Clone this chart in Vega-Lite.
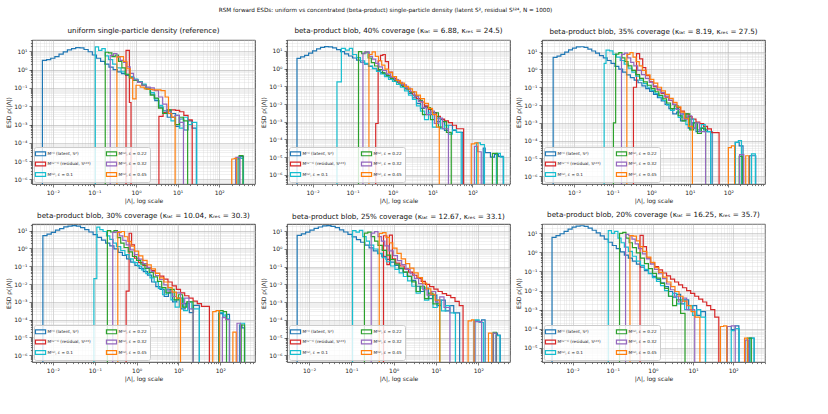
{
"$schema":"https://vega.github.io/schema/vega-lite/v6.json",
"background":"white",
"padding":{"left":5,"top":7,"right":5,"bottom":5},
"title":{"text":"RSM forward ESDs: uniform vs concentrated (beta-product) single-particle density (latent S², residual S¹²⁴, N = 1000)","fontSize":5.7,"fontWeight":"normal","font":"DejaVu Sans","color":"#111111","anchor":"middle","offset":14},
"config":{
"font":"DejaVu Sans",
"view":{"stroke":"#1a1a1a","strokeWidth":0.8},
"title":{"fontSize":7.2,"fontWeight":"normal","color":"#111111","offset":3},
"axis":{
"tickCount":80,"labelOverlap":false,"labelFlush":false,"domain":false,
"labelFontSize":6,"labelColor":"#222222","titleFontSize":6,"titleFontWeight":"normal","titleColor":"#222222",
"labelPadding":2,"titlePadding":2,"tickColor":"#222222","tickWidth":0.6,
"tickSize":{"condition":{"test":"abs(log(datum.value)/LN10-round(log(datum.value)/LN10))<0.001","value":3},"value":1.6},
"gridColor":{"condition":{"test":"abs(log(datum.value)/LN10-round(log(datum.value)/LN10))<0.001","value":"#b0b0b0"},"value":"#d6d6d6"},
"gridOpacity":{"condition":{"test":"abs(log(datum.value)/LN10-round(log(datum.value)/LN10))<0.001","value":0.85},"value":0.6},
"gridWidth":0.6,
"labelExpr":"abs(log(datum.value)/LN10-round(log(datum.value)/LN10))<0.001 ? '10'+replace(replace(replace(replace(replace(replace(replace(replace(replace(replace(''+round(log(datum.value)/LN10),'-','⁻'),'0','⁰'),'1','¹'),'2','²'),'3','³'),'4','⁴'),'5','⁵'),'6','⁶'),'7','⁷'),'8','⁸') : ''"
},
"legend":{"orient":"bottom-left","columns":2,"offset":2,"padding":2.5,"fillColor":"rgba(255,255,255,0.8)","strokeColor":"#cccccc","cornerRadius":2,"labelFontSize":4.2,"labelColor":"#222222","labelLimit":300,"labelOffset":3,"rowPadding":0.5,"columnPadding":12,"symbolSize":40,"symbolStrokeWidth":1.2,"symbolFillColor":"transparent"}
},
"datasets":{
"p1":[
{"s":"a","x":0.001,"y":1e-9},{"s":"a","x":0.00562,"y":3.2},{"s":"a","x":0.00708,"y":3.5},{"s":"a","x":0.00891,"y":4.2},{"s":"a","x":0.0112,"y":5.2},{"s":"a","x":0.0141,"y":7.1},{"s":"a","x":0.0178,"y":9.3},{"s":"a","x":0.0224,"y":12},{"s":"a","x":0.0282,"y":14},{"s":"a","x":0.0355,"y":16},{"s":"a","x":0.0447,"y":15.5},{"s":"a","x":0.0562,"y":12.6},{"s":"a","x":0.0708,"y":9.5},{"s":"a","x":0.0891,"y":6.3},{"s":"a","x":0.112,"y":4.2},{"s":"a","x":0.141,"y":2.8},{"s":"a","x":0.178,"y":2.0},{"s":"a","x":0.224,"y":1.38},{"s":"a","x":0.282,"y":1.0},{"s":"a","x":0.355,"y":0.76},{"s":"a","x":0.447,"y":0.6},{"s":"a","x":0.562,"y":0.48},{"s":"a","x":0.708,"y":0.38},{"s":"a","x":0.891,"y":0.28},{"s":"a","x":1.12,"y":0.22},{"s":"a","x":1.41,"y":0.14},{"s":"a","x":1.78,"y":0.089},{"s":"a","x":2.24,"y":0.045},{"s":"a","x":2.82,"y":0.02},{"s":"a","x":3.55,"y":0.0089},{"s":"a","x":4.47,"y":0.0056},{"s":"a","x":5.62,"y":0.0025},{"s":"a","x":7.08,"y":0.004},{"s":"a","x":8.91,"y":0.00079},{"s":"a","x":11.2,"y":0.002},{"s":"a","x":14.1,"y":0.0005},{"s":"a","x":17.8,"y":0.0016},{"s":"a","x":22.4,"y":0.00063},{"s":"a","x":28.2,"y":1e-9},{"s":"a","x":251,"y":1.3e-5},{"s":"a","x":302,"y":1.8e-5},{"s":"a","x":380,"y":1e-9},
{"s":"b","x":0.001,"y":1e-9},{"s":"b","x":0.575,"y":11.2},{"s":"b","x":0.692,"y":0.016},{"s":"b","x":0.759,"y":1e-9},{"s":"b","x":3.55,"y":0.0028},{"s":"b","x":4.47,"y":0.0045},{"s":"b","x":5.62,"y":0.0056},{"s":"b","x":7.08,"y":0.0063},{"s":"b","x":8.91,"y":0.006},{"s":"b","x":11.2,"y":0.005},{"s":"b","x":14.1,"y":0.0032},{"s":"b","x":17.8,"y":0.0018},{"s":"b","x":22.4,"y":1e-9},
{"s":"c","x":0.001,"y":1e-9},{"s":"c","x":0.105,"y":17.4},{"s":"c","x":0.126,"y":11.2},{"s":"c","x":0.151,"y":14.1},{"s":"c","x":0.182,"y":5.6},{"s":"c","x":0.219,"y":3.5},{"s":"c","x":0.275,"y":2.0},{"s":"c","x":0.347,"y":1.26},{"s":"c","x":0.437,"y":0.76},{"s":"c","x":0.55,"y":0.56},{"s":"c","x":0.692,"y":0.42},{"s":"c","x":0.871,"y":0.3},{"s":"c","x":1.1,"y":0.22},{"s":"c","x":1.38,"y":0.16},{"s":"c","x":1.74,"y":0.1},{"s":"c","x":2.19,"y":0.056},{"s":"c","x":2.75,"y":0.025},{"s":"c","x":3.47,"y":0.011},{"s":"c","x":4.37,"y":0.004},{"s":"c","x":5.5,"y":0.0063},{"s":"c","x":6.92,"y":0.0016},{"s":"c","x":8.71,"y":0.0032},{"s":"c","x":11.0,"y":0.00063},{"s":"c","x":13.8,"y":0.0025},{"s":"c","x":17.4,"y":0.001},{"s":"c","x":21.9,"y":0.0013},{"s":"c","x":28.8,"y":1e-9},{"s":"c","x":282,"y":1.6e-5},{"s":"c","x":331,"y":1.4e-5},{"s":"c","x":380,"y":1e-9},
{"s":"d","x":0.001,"y":1e-9},{"s":"d","x":0.182,"y":8.9},{"s":"d","x":0.219,"y":8.3},{"s":"d","x":0.263,"y":5.2},{"s":"d","x":0.316,"y":6.3},{"s":"d","x":0.38,"y":2.8},{"s":"d","x":0.457,"y":1.26},{"s":"d","x":0.55,"y":0.56},{"s":"d","x":0.692,"y":0.35},{"s":"d","x":0.871,"y":0.26},{"s":"d","x":1.1,"y":0.2},{"s":"d","x":1.38,"y":0.14},{"s":"d","x":1.74,"y":0.089},{"s":"d","x":2.19,"y":0.04},{"s":"d","x":2.75,"y":0.028},{"s":"d","x":3.47,"y":0.0079},{"s":"d","x":4.37,"y":0.004},{"s":"d","x":5.5,"y":0.0063},{"s":"d","x":6.92,"y":0.0025},{"s":"d","x":8.71,"y":0.001},{"s":"d","x":11.0,"y":0.0025},{"s":"d","x":13.8,"y":0.0016},{"s":"d","x":17.4,"y":1e-9},{"s":"d","x":302,"y":2.0e-5},{"s":"d","x":372,"y":1e-9},
{"s":"e","x":0.001,"y":1e-9},{"s":"e","x":0.24,"y":6.0},{"s":"e","x":0.288,"y":7.6},{"s":"e","x":0.347,"y":5.0},{"s":"e","x":0.417,"y":3.2},{"s":"e","x":0.501,"y":2.5},{"s":"e","x":0.603,"y":1.41},{"s":"e","x":0.724,"y":0.63},{"s":"e","x":0.871,"y":0.28},{"s":"e","x":1.1,"y":0.2},{"s":"e","x":1.38,"y":0.14},{"s":"e","x":1.74,"y":0.11},{"s":"e","x":2.19,"y":0.1},{"s":"e","x":2.75,"y":0.071},{"s":"e","x":3.47,"y":0.032},{"s":"e","x":4.37,"y":0.013},{"s":"e","x":5.5,"y":0.005},{"s":"e","x":6.92,"y":0.0025},{"s":"e","x":8.71,"y":0.0032},{"s":"e","x":11.0,"y":0.0013},{"s":"e","x":13.8,"y":1e-9},{"s":"e","x":251,"y":1.6e-5},{"s":"e","x":316,"y":1e-9},
{"s":"f","x":0.001,"y":1e-9},{"s":"f","x":0.347,"y":5.0},{"s":"f","x":0.417,"y":5.2},{"s":"f","x":0.501,"y":2.8},{"s":"f","x":0.603,"y":1.12},{"s":"f","x":0.724,"y":0.35},{"s":"f","x":0.832,"y":0.025},{"s":"f","x":1.0,"y":0.14},{"s":"f","x":1.26,"y":0.11},{"s":"f","x":1.58,"y":0.089},{"s":"f","x":2.0,"y":0.083},{"s":"f","x":2.51,"y":0.079},{"s":"f","x":3.98,"y":0.071},{"s":"f","x":5.01,"y":0.032},{"s":"f","x":6.03,"y":0.004},{"s":"f","x":7.24,"y":0.0025},{"s":"f","x":8.71,"y":1e-9},{"s":"f","x":200,"y":1.3e-5},{"s":"f","x":229,"y":1.4e-5},{"s":"f","x":263,"y":1e-9}
],
"p2":[
{"s":"a","x":0.001,"y":1e-9},{"s":"a","x":0.00407,"y":3.8},{"s":"a","x":0.00501,"y":4.6},{"s":"a","x":0.00631,"y":5.6},{"s":"a","x":0.00794,"y":7.6},{"s":"a","x":0.01,"y":10},{"s":"a","x":0.0126,"y":13},{"s":"a","x":0.0158,"y":16},{"s":"a","x":0.02,"y":17.4},{"s":"a","x":0.0251,"y":17},{"s":"a","x":0.0316,"y":15},{"s":"a","x":0.0398,"y":12},{"s":"a","x":0.0501,"y":9.1},{"s":"a","x":0.0631,"y":6.9},{"s":"a","x":0.0794,"y":5.2},{"s":"a","x":0.1,"y":4.0},{"s":"a","x":0.126,"y":3.0},{"s":"a","x":0.158,"y":2.3},{"s":"a","x":0.2,"y":1.78},{"s":"a","x":0.251,"y":1.35},{"s":"a","x":0.316,"y":1.05},{"s":"a","x":0.398,"y":0.79},{"s":"a","x":0.501,"y":0.6},{"s":"a","x":0.631,"y":0.45},{"s":"a","x":0.794,"y":0.33},{"s":"a","x":1.0,"y":0.24},{"s":"a","x":1.26,"y":0.17},{"s":"a","x":1.58,"y":0.11},{"s":"a","x":2.0,"y":0.071},{"s":"a","x":2.51,"y":0.04},{"s":"a","x":3.16,"y":0.022},{"s":"a","x":3.98,"y":0.011},{"s":"a","x":5.01,"y":0.0056},{"s":"a","x":6.31,"y":0.0071},{"s":"a","x":7.94,"y":0.0025},{"s":"a","x":10.0,"y":0.0032},{"s":"a","x":12.6,"y":0.001},{"s":"a","x":15.8,"y":0.0013},{"s":"a","x":20.0,"y":0.00032},{"s":"a","x":25.1,"y":0.00063},{"s":"a","x":31.6,"y":0.00032},{"s":"a","x":39.8,"y":0.00025},{"s":"a","x":57.5,"y":1e-9},{"s":"a","x":186,"y":3.2e-5},{"s":"a","x":209,"y":1.8e-5},{"s":"a","x":282,"y":1.0e-5},{"s":"a","x":355,"y":1.4e-5},{"s":"a","x":447,"y":1.1e-5},{"s":"a","x":589,"y":1e-9},
{"s":"b","x":0.001,"y":1e-9},{"s":"b","x":0.38,"y":0.00079},{"s":"b","x":0.437,"y":2.8},{"s":"b","x":0.501,"y":5.6},{"s":"b","x":0.575,"y":6.3},{"s":"b","x":0.661,"y":2.5},{"s":"b","x":0.794,"y":0.63},{"s":"b","x":1.0,"y":0.28},{"s":"b","x":1.26,"y":0.18},{"s":"b","x":1.58,"y":0.12},{"s":"b","x":2.0,"y":0.079},{"s":"b","x":2.51,"y":0.05},{"s":"b","x":3.16,"y":0.032},{"s":"b","x":3.98,"y":0.02},{"s":"b","x":5.01,"y":0.013},{"s":"b","x":6.31,"y":0.0079},{"s":"b","x":7.94,"y":0.005},{"s":"b","x":10.0,"y":0.0032},{"s":"b","x":12.6,"y":0.002},{"s":"b","x":15.8,"y":0.0014},{"s":"b","x":20.0,"y":0.0011},{"s":"b","x":25.1,"y":0.00089},{"s":"b","x":31.6,"y":0.00063},{"s":"b","x":39.8,"y":0.0004},{"s":"b","x":60.3,"y":1e-9},
{"s":"c","x":0.001,"y":1e-9},{"s":"c","x":0.0407,"y":0.18},{"s":"c","x":0.0525,"y":14},{"s":"c","x":0.0661,"y":11.2},{"s":"c","x":0.0832,"y":14},{"s":"c","x":0.1,"y":6.3},{"s":"c","x":0.126,"y":4.2},{"s":"c","x":0.158,"y":2.8},{"s":"c","x":0.2,"y":2.0},{"s":"c","x":0.251,"y":1.41},{"s":"c","x":0.316,"y":1.0},{"s":"c","x":0.398,"y":0.71},{"s":"c","x":0.501,"y":0.5},{"s":"c","x":0.631,"y":0.35},{"s":"c","x":0.794,"y":0.25},{"s":"c","x":1.0,"y":0.19},{"s":"c","x":1.26,"y":0.13},{"s":"c","x":1.58,"y":0.089},{"s":"c","x":2.0,"y":0.056},{"s":"c","x":2.51,"y":0.032},{"s":"c","x":3.16,"y":0.018},{"s":"c","x":3.98,"y":0.0079},{"s":"c","x":5.01,"y":0.004},{"s":"c","x":6.31,"y":0.0013},{"s":"c","x":7.94,"y":0.0032},{"s":"c","x":10.0,"y":0.0005},{"s":"c","x":12.6,"y":0.0016},{"s":"c","x":15.8,"y":0.0004},{"s":"c","x":20.0,"y":0.00063},{"s":"c","x":25.1,"y":0.0002},{"s":"c","x":31.6,"y":0.00035},{"s":"c","x":39.8,"y":0.00025},{"s":"c","x":52.5,"y":1e-9},{"s":"c","x":126,"y":6.3e-5},{"s":"c","x":158,"y":5.0e-5},{"s":"c","x":200,"y":1e-9},{"s":"c","x":398,"y":1.6e-5},{"s":"c","x":501,"y":1.0e-5},{"s":"c","x":603,"y":1e-9},
{"s":"d","x":0.001,"y":1e-9},{"s":"d","x":0.141,"y":9.1},{"s":"d","x":0.17,"y":7.1},{"s":"d","x":0.204,"y":8.9},{"s":"d","x":0.245,"y":4.0},{"s":"d","x":0.295,"y":2.2},{"s":"d","x":0.355,"y":1.41},{"s":"d","x":0.447,"y":0.89},{"s":"d","x":0.562,"y":0.56},{"s":"d","x":0.708,"y":0.4},{"s":"d","x":0.891,"y":0.28},{"s":"d","x":1.12,"y":0.21},{"s":"d","x":1.41,"y":0.15},{"s":"d","x":1.78,"y":0.1},{"s":"d","x":2.24,"y":0.071},{"s":"d","x":2.82,"y":0.045},{"s":"d","x":3.55,"y":0.028},{"s":"d","x":4.47,"y":0.016},{"s":"d","x":5.62,"y":0.0025},{"s":"d","x":7.08,"y":0.0063},{"s":"d","x":8.91,"y":0.0013},{"s":"d","x":11.2,"y":0.0032},{"s":"d","x":14.1,"y":0.0005},{"s":"d","x":17.8,"y":0.001},{"s":"d","x":22.4,"y":0.00025},{"s":"d","x":29.5,"y":1e-9},{"s":"d","x":316,"y":1.6e-5},{"s":"d","x":417,"y":1e-9},
{"s":"e","x":0.001,"y":1e-9},{"s":"e","x":0.182,"y":7.6},{"s":"e","x":0.219,"y":8.9},{"s":"e","x":0.263,"y":5.0},{"s":"e","x":0.316,"y":3.5},{"s":"e","x":0.38,"y":2.0},{"s":"e","x":0.457,"y":1.26},{"s":"e","x":0.562,"y":0.79},{"s":"e","x":0.708,"y":0.5},{"s":"e","x":0.891,"y":0.33},{"s":"e","x":1.12,"y":0.24},{"s":"e","x":1.41,"y":0.17},{"s":"e","x":1.78,"y":0.12},{"s":"e","x":2.24,"y":0.079},{"s":"e","x":2.82,"y":0.05},{"s":"e","x":3.55,"y":0.028},{"s":"e","x":4.47,"y":0.014},{"s":"e","x":5.62,"y":0.0063},{"s":"e","x":7.08,"y":0.0025},{"s":"e","x":8.91,"y":0.004},{"s":"e","x":11.2,"y":0.00079},{"s":"e","x":14.1,"y":0.0016},{"s":"e","x":17.8,"y":0.0004},{"s":"e","x":25.1,"y":1e-9},{"s":"e","x":112,"y":4.0e-5},{"s":"e","x":135,"y":2.0e-5},{"s":"e","x":166,"y":1e-9},
{"s":"f","x":0.001,"y":1e-9},{"s":"f","x":0.257,"y":6.3},{"s":"f","x":0.309,"y":8.9},{"s":"f","x":0.372,"y":5.0},{"s":"f","x":0.447,"y":2.8},{"s":"f","x":0.537,"y":1.58},{"s":"f","x":0.646,"y":0.95},{"s":"f","x":0.794,"y":0.6},{"s":"f","x":1.0,"y":0.35},{"s":"f","x":1.26,"y":0.22},{"s":"f","x":1.58,"y":0.15},{"s":"f","x":2.0,"y":0.1},{"s":"f","x":2.51,"y":0.071},{"s":"f","x":3.16,"y":0.048},{"s":"f","x":3.98,"y":0.032},{"s":"f","x":5.01,"y":0.02},{"s":"f","x":6.31,"y":0.011},{"s":"f","x":7.94,"y":0.0056},{"s":"f","x":10.0,"y":0.0025},{"s":"f","x":12.6,"y":0.0005},{"s":"f","x":14.8,"y":1e-9},{"s":"f","x":93.3,"y":5.6e-5},{"s":"f","x":115,"y":6.3e-5},{"s":"f","x":138,"y":1e-9}
],
"p3":[
{"s":"a","x":0.001,"y":1e-9},{"s":"a","x":0.00288,"y":4.8},{"s":"a","x":0.00363,"y":5.6},{"s":"a","x":0.00457,"y":7.1},{"s":"a","x":0.00575,"y":9.5},{"s":"a","x":0.00724,"y":12.6},{"s":"a","x":0.00912,"y":16},{"s":"a","x":0.0115,"y":18.6},{"s":"a","x":0.0145,"y":19},{"s":"a","x":0.0182,"y":17.4},{"s":"a","x":0.0229,"y":14},{"s":"a","x":0.0288,"y":11},{"s":"a","x":0.0363,"y":8.3},{"s":"a","x":0.0457,"y":6.0},{"s":"a","x":0.0575,"y":4.5},{"s":"a","x":0.0724,"y":3.2},{"s":"a","x":0.0912,"y":2.2},{"s":"a","x":0.115,"y":1.51},{"s":"a","x":0.145,"y":1.05},{"s":"a","x":0.182,"y":0.72},{"s":"a","x":0.229,"y":0.5},{"s":"a","x":0.288,"y":0.35},{"s":"a","x":0.363,"y":0.25},{"s":"a","x":0.457,"y":0.18},{"s":"a","x":0.575,"y":0.12},{"s":"a","x":0.724,"y":0.083},{"s":"a","x":0.912,"y":0.058},{"s":"a","x":1.15,"y":0.04},{"s":"a","x":1.45,"y":0.026},{"s":"a","x":1.82,"y":0.017},{"s":"a","x":2.29,"y":0.011},{"s":"a","x":2.88,"y":0.0063},{"s":"a","x":3.63,"y":0.0032},{"s":"a","x":4.57,"y":0.004},{"s":"a","x":5.75,"y":0.0013},{"s":"a","x":7.24,"y":0.002},{"s":"a","x":9.12,"y":0.0005},{"s":"a","x":11.5,"y":0.001},{"s":"a","x":14.5,"y":0.00032},{"s":"a","x":18.2,"y":0.0005},{"s":"a","x":22.9,"y":0.0004},{"s":"a","x":28.8,"y":0.00032},{"s":"a","x":38.0,"y":1e-9},{"s":"a","x":151,"y":7.9e-5},{"s":"a","x":191,"y":5.0e-5},{"s":"a","x":240,"y":1e-9},{"s":"a","x":355,"y":1.4e-5},{"s":"a","x":513,"y":1e-9},
{"s":"b","x":0.001,"y":1e-9},{"s":"b","x":0.347,"y":0.1},{"s":"b","x":0.417,"y":7.9},{"s":"b","x":0.501,"y":4.0},{"s":"b","x":0.603,"y":1.26},{"s":"b","x":0.724,"y":0.45},{"s":"b","x":0.912,"y":0.2},{"s":"b","x":1.15,"y":0.11},{"s":"b","x":1.45,"y":0.071},{"s":"b","x":1.82,"y":0.045},{"s":"b","x":2.29,"y":0.028},{"s":"b","x":2.88,"y":0.018},{"s":"b","x":3.63,"y":0.011},{"s":"b","x":4.57,"y":0.0071},{"s":"b","x":5.75,"y":0.0045},{"s":"b","x":7.24,"y":0.0032},{"s":"b","x":9.12,"y":0.0022},{"s":"b","x":11.5,"y":0.0016},{"s":"b","x":14.5,"y":0.0011},{"s":"b","x":18.2,"y":0.00089},{"s":"b","x":22.9,"y":0.00063},{"s":"b","x":28.8,"y":0.00045},{"s":"b","x":36.3,"y":0.00028},{"s":"b","x":57.5,"y":1e-9},
{"s":"c","x":0.001,"y":1e-9},{"s":"c","x":0.0603,"y":2.2},{"s":"c","x":0.0676,"y":12.3},{"s":"c","x":0.0832,"y":11.2},{"s":"c","x":0.102,"y":7.1},{"s":"c","x":0.126,"y":5.0},{"s":"c","x":0.158,"y":3.2},{"s":"c","x":0.2,"y":2.0},{"s":"c","x":0.251,"y":1.2},{"s":"c","x":0.316,"y":0.71},{"s":"c","x":0.398,"y":0.42},{"s":"c","x":0.501,"y":0.25},{"s":"c","x":0.631,"y":0.16},{"s":"c","x":0.794,"y":0.1},{"s":"c","x":1.0,"y":0.066},{"s":"c","x":1.26,"y":0.045},{"s":"c","x":1.58,"y":0.028},{"s":"c","x":2.0,"y":0.018},{"s":"c","x":2.51,"y":0.01},{"s":"c","x":3.16,"y":0.005},{"s":"c","x":3.98,"y":0.0063},{"s":"c","x":5.01,"y":0.002},{"s":"c","x":6.31,"y":0.0032},{"s":"c","x":7.94,"y":0.00079},{"s":"c","x":10.0,"y":0.0016},{"s":"c","x":12.6,"y":0.0005},{"s":"c","x":15.8,"y":0.0004},{"s":"c","x":20.0,"y":0.00079},{"s":"c","x":25.1,"y":0.00032},{"s":"c","x":34.7,"y":1e-9},{"s":"c","x":151,"y":7.9e-5},{"s":"c","x":182,"y":1.0e-4},{"s":"c","x":219,"y":1e-9},{"s":"c","x":398,"y":1.8e-5},{"s":"c","x":501,"y":1e-9},
{"s":"d","x":0.001,"y":1e-9},{"s":"d","x":0.105,"y":0.001},{"s":"d","x":0.12,"y":7.4},{"s":"d","x":0.145,"y":8.9},{"s":"d","x":0.174,"y":4.5},{"s":"d","x":0.209,"y":2.8},{"s":"d","x":0.251,"y":1.58},{"s":"d","x":0.316,"y":0.89},{"s":"d","x":0.398,"y":0.52},{"s":"d","x":0.501,"y":0.32},{"s":"d","x":0.631,"y":0.2},{"s":"d","x":0.794,"y":0.13},{"s":"d","x":1.0,"y":0.083},{"s":"d","x":1.26,"y":0.056},{"s":"d","x":1.58,"y":0.035},{"s":"d","x":2.0,"y":0.022},{"s":"d","x":2.51,"y":0.013},{"s":"d","x":3.16,"y":0.0063},{"s":"d","x":3.98,"y":0.0089},{"s":"d","x":5.01,"y":0.0025},{"s":"d","x":6.31,"y":0.0013},{"s":"d","x":7.94,"y":0.0032},{"s":"d","x":10.0,"y":0.0004},{"s":"d","x":12.6,"y":0.001},{"s":"d","x":15.8,"y":0.00025},{"s":"d","x":20.0,"y":0.0005},{"s":"d","x":25.7,"y":1e-9},{"s":"d","x":191,"y":1.3e-5},{"s":"d","x":229,"y":1e-9},
{"s":"e","x":0.001,"y":1e-9},{"s":"e","x":0.17,"y":7.1},{"s":"e","x":0.204,"y":8.3},{"s":"e","x":0.245,"y":4.5},{"s":"e","x":0.295,"y":2.5},{"s":"e","x":0.355,"y":1.58},{"s":"e","x":0.447,"y":0.89},{"s":"e","x":0.562,"y":0.52},{"s":"e","x":0.708,"y":0.32},{"s":"e","x":0.891,"y":0.19},{"s":"e","x":1.12,"y":0.12},{"s":"e","x":1.41,"y":0.079},{"s":"e","x":1.78,"y":0.05},{"s":"e","x":2.24,"y":0.032},{"s":"e","x":2.82,"y":0.019},{"s":"e","x":3.55,"y":0.011},{"s":"e","x":4.47,"y":0.0056},{"s":"e","x":5.62,"y":0.0032},{"s":"e","x":7.08,"y":0.0016},{"s":"e","x":8.91,"y":0.0025},{"s":"e","x":11.2,"y":0.0005},{"s":"e","x":14.1,"y":0.001},{"s":"e","x":17.8,"y":0.00032},{"s":"e","x":25.7,"y":1e-9},{"s":"e","x":195,"y":1.6e-5},{"s":"e","x":251,"y":1e-9},
{"s":"f","x":0.001,"y":1e-9},{"s":"f","x":0.234,"y":7.1},{"s":"f","x":0.282,"y":8.9},{"s":"f","x":0.339,"y":5.0},{"s":"f","x":0.407,"y":2.8},{"s":"f","x":0.49,"y":1.58},{"s":"f","x":0.589,"y":0.89},{"s":"f","x":0.741,"y":0.5},{"s":"f","x":0.933,"y":0.28},{"s":"f","x":1.17,"y":0.17},{"s":"f","x":1.48,"y":0.1},{"s":"f","x":1.86,"y":0.063},{"s":"f","x":2.34,"y":0.04},{"s":"f","x":2.95,"y":0.024},{"s":"f","x":3.72,"y":0.014},{"s":"f","x":4.68,"y":0.0079},{"s":"f","x":5.89,"y":0.004},{"s":"f","x":7.41,"y":0.0018},{"s":"f","x":9.33,"y":0.00063},{"s":"f","x":11.7,"y":1e-9},{"s":"f","x":100,"y":4.0e-5},{"s":"f","x":120,"y":5.0e-5},{"s":"f","x":145,"y":1e-9},{"s":"f","x":282,"y":1.4e-5},{"s":"f","x":339,"y":1e-9}
],
"p4":[
{"s":"a","x":0.001,"y":1e-9},{"s":"a","x":0.00575,"y":5.2},{"s":"a","x":0.00724,"y":6.3},{"s":"a","x":0.00912,"y":7.9},{"s":"a","x":0.0115,"y":10.5},{"s":"a","x":0.0145,"y":13},{"s":"a","x":0.0182,"y":16},{"s":"a","x":0.0229,"y":18},{"s":"a","x":0.0288,"y":19},{"s":"a","x":0.0363,"y":17.8},{"s":"a","x":0.0457,"y":14.5},{"s":"a","x":0.0575,"y":11.2},{"s":"a","x":0.0724,"y":8.3},{"s":"a","x":0.0912,"y":6.0},{"s":"a","x":0.115,"y":4.2},{"s":"a","x":0.145,"y":2.9},{"s":"a","x":0.182,"y":2.0},{"s":"a","x":0.229,"y":1.38},{"s":"a","x":0.288,"y":0.95},{"s":"a","x":0.363,"y":0.6},{"s":"a","x":0.457,"y":0.4},{"s":"a","x":0.575,"y":0.26},{"s":"a","x":0.724,"y":0.17},{"s":"a","x":0.912,"y":0.11},{"s":"a","x":1.15,"y":0.076},{"s":"a","x":1.45,"y":0.05},{"s":"a","x":1.82,"y":0.032},{"s":"a","x":2.29,"y":0.013},{"s":"a","x":2.88,"y":0.0071},{"s":"a","x":3.63,"y":0.005},{"s":"a","x":4.57,"y":0.002},{"s":"a","x":5.75,"y":0.0032},{"s":"a","x":7.24,"y":0.001},{"s":"a","x":9.12,"y":0.0016},{"s":"a","x":11.5,"y":0.0004},{"s":"a","x":14.5,"y":0.00079},{"s":"a","x":18.2,"y":0.00025},{"s":"a","x":22.9,"y":0.00063},{"s":"a","x":31.6,"y":1e-9},{"s":"a","x":91.2,"y":0.00022},{"s":"a","x":115,"y":0.00014},{"s":"a","x":138,"y":0.0002},{"s":"a","x":166,"y":1e-9},{"s":"a","x":288,"y":5.0e-5},{"s":"a","x":331,"y":3.5e-5},{"s":"a","x":380,"y":1e-9},
{"s":"b","x":0.001,"y":1e-9},{"s":"b","x":0.562,"y":0.004},{"s":"b","x":0.661,"y":7.1},{"s":"b","x":0.759,"y":1.58},{"s":"b","x":0.891,"y":0.28},{"s":"b","x":1.12,"y":0.16},{"s":"b","x":1.41,"y":0.11},{"s":"b","x":1.78,"y":0.079},{"s":"b","x":2.24,"y":0.056},{"s":"b","x":2.82,"y":0.04},{"s":"b","x":3.55,"y":0.028},{"s":"b","x":4.47,"y":0.019},{"s":"b","x":5.62,"y":0.013},{"s":"b","x":7.08,"y":0.0079},{"s":"b","x":8.91,"y":0.005},{"s":"b","x":11.2,"y":0.0032},{"s":"b","x":14.1,"y":0.0022},{"s":"b","x":17.8,"y":0.0016},{"s":"b","x":22.4,"y":0.0011},{"s":"b","x":28.2,"y":0.00079},{"s":"b","x":35.5,"y":0.00056},{"s":"b","x":55.0,"y":1e-9},
{"s":"c","x":0.001,"y":1e-9},{"s":"c","x":0.0955,"y":0.02},{"s":"c","x":0.112,"y":15.5},{"s":"c","x":0.132,"y":11.2},{"s":"c","x":0.158,"y":8.9},{"s":"c","x":0.191,"y":5.0},{"s":"c","x":0.229,"y":3.2},{"s":"c","x":0.275,"y":2.0},{"s":"c","x":0.331,"y":1.26},{"s":"c","x":0.417,"y":0.76},{"s":"c","x":0.525,"y":0.45},{"s":"c","x":0.661,"y":0.26},{"s":"c","x":0.832,"y":0.16},{"s":"c","x":1.05,"y":0.1},{"s":"c","x":1.32,"y":0.063},{"s":"c","x":1.66,"y":0.038},{"s":"c","x":2.09,"y":0.022},{"s":"c","x":2.63,"y":0.013},{"s":"c","x":3.31,"y":0.0056},{"s":"c","x":4.17,"y":0.0025},{"s":"c","x":5.25,"y":0.005},{"s":"c","x":6.61,"y":0.0013},{"s":"c","x":8.32,"y":0.0005},{"s":"c","x":10.5,"y":0.0016},{"s":"c","x":13.2,"y":0.00032},{"s":"c","x":16.6,"y":0.001},{"s":"c","x":20.9,"y":0.0004},{"s":"c","x":31.6,"y":1e-9},{"s":"c","x":95.5,"y":0.00025},{"s":"c","x":120,"y":0.00018},{"s":"c","x":145,"y":0.00011},{"s":"c","x":166,"y":1e-9},{"s":"c","x":302,"y":6.3e-5},{"s":"c","x":380,"y":1e-9},
{"s":"d","x":0.001,"y":1e-9},{"s":"d","x":0.2,"y":10},{"s":"d","x":0.24,"y":8.3},{"s":"d","x":0.288,"y":10},{"s":"d","x":0.347,"y":4.0},{"s":"d","x":0.417,"y":2.0},{"s":"d","x":0.501,"y":1.12},{"s":"d","x":0.631,"y":0.63},{"s":"d","x":0.794,"y":0.35},{"s":"d","x":1.0,"y":0.21},{"s":"d","x":1.26,"y":0.13},{"s":"d","x":1.58,"y":0.076},{"s":"d","x":2.0,"y":0.045},{"s":"d","x":2.51,"y":0.025},{"s":"d","x":3.16,"y":0.014},{"s":"d","x":3.98,"y":0.0063},{"s":"d","x":5.01,"y":0.0032},{"s":"d","x":6.31,"y":0.005},{"s":"d","x":7.94,"y":0.0013},{"s":"d","x":10.0,"y":0.0025},{"s":"d","x":12.6,"y":0.0005},{"s":"d","x":15.8,"y":0.001},{"s":"d","x":22.4,"y":1e-9},{"s":"d","x":93.3,"y":0.00032},{"s":"d","x":117,"y":0.00028},{"s":"d","x":141,"y":1e-9},{"s":"d","x":316,"y":5.0e-5},{"s":"d","x":380,"y":1e-9},
{"s":"e","x":0.001,"y":1e-9},{"s":"e","x":0.269,"y":7.9},{"s":"e","x":0.324,"y":8.9},{"s":"e","x":0.389,"y":5.0},{"s":"e","x":0.468,"y":2.8},{"s":"e","x":0.562,"y":1.58},{"s":"e","x":0.708,"y":0.83},{"s":"e","x":0.891,"y":0.45},{"s":"e","x":1.12,"y":0.25},{"s":"e","x":1.41,"y":0.14},{"s":"e","x":1.78,"y":0.083},{"s":"e","x":2.24,"y":0.05},{"s":"e","x":2.82,"y":0.03},{"s":"e","x":3.55,"y":0.018},{"s":"e","x":4.47,"y":0.0089},{"s":"e","x":5.62,"y":0.004},{"s":"e","x":7.08,"y":0.002},{"s":"e","x":8.91,"y":0.0032},{"s":"e","x":11.2,"y":0.00079},{"s":"e","x":14.1,"y":0.0016},{"s":"e","x":17.8,"y":0.0004},{"s":"e","x":22.4,"y":1e-9},{"s":"e","x":112,"y":0.00013},{"s":"e","x":135,"y":0.0001},{"s":"e","x":166,"y":1e-9},{"s":"e","x":251,"y":6.3e-5},{"s":"e","x":302,"y":1e-9},
{"s":"f","x":0.001,"y":1e-9},{"s":"f","x":0.355,"y":7.9},{"s":"f","x":0.427,"y":8.9},{"s":"f","x":0.513,"y":4.5},{"s":"f","x":0.617,"y":2.5},{"s":"f","x":0.741,"y":1.32},{"s":"f","x":0.891,"y":0.71},{"s":"f","x":1.12,"y":0.38},{"s":"f","x":1.41,"y":0.21},{"s":"f","x":1.78,"y":0.12},{"s":"f","x":2.24,"y":0.071},{"s":"f","x":2.82,"y":0.04},{"s":"f","x":3.55,"y":0.022},{"s":"f","x":4.47,"y":0.013},{"s":"f","x":5.62,"y":0.0063},{"s":"f","x":7.08,"y":0.0035},{"s":"f","x":8.91,"y":0.0016},{"s":"f","x":11.2,"y":1e-9},{"s":"f","x":66.1,"y":0.00028},{"s":"f","x":79.4,"y":0.00032},{"s":"f","x":95.5,"y":1e-9},{"s":"f","x":200,"y":2.0e-5},{"s":"f","x":240,"y":1e-9}
],
"p5":[
{"s":"a","x":0.001,"y":1e-9},{"s":"a","x":0.00525,"y":5.8},{"s":"a","x":0.00661,"y":7.1},{"s":"a","x":0.00832,"y":8.9},{"s":"a","x":0.0105,"y":11.5},{"s":"a","x":0.0132,"y":14.5},{"s":"a","x":0.0166,"y":17.4},{"s":"a","x":0.0209,"y":20},{"s":"a","x":0.0263,"y":21},{"s":"a","x":0.0331,"y":19},{"s":"a","x":0.0417,"y":16},{"s":"a","x":0.0525,"y":12},{"s":"a","x":0.0661,"y":9.1},{"s":"a","x":0.0832,"y":6.6},{"s":"a","x":0.105,"y":4.8},{"s":"a","x":0.132,"y":3.4},{"s":"a","x":0.166,"y":2.4},{"s":"a","x":0.209,"y":1.66},{"s":"a","x":0.263,"y":1.15},{"s":"a","x":0.331,"y":0.79},{"s":"a","x":0.417,"y":0.55},{"s":"a","x":0.525,"y":0.38},{"s":"a","x":0.661,"y":0.26},{"s":"a","x":0.832,"y":0.18},{"s":"a","x":1.05,"y":0.12},{"s":"a","x":1.32,"y":0.079},{"s":"a","x":1.66,"y":0.05},{"s":"a","x":2.09,"y":0.03},{"s":"a","x":2.63,"y":0.017},{"s":"a","x":3.31,"y":0.0079},{"s":"a","x":4.17,"y":0.004},{"s":"a","x":5.25,"y":0.0063},{"s":"a","x":6.61,"y":0.0016},{"s":"a","x":8.32,"y":0.0025},{"s":"a","x":10.5,"y":0.00063},{"s":"a","x":13.2,"y":0.0013},{"s":"a","x":16.6,"y":0.00032},{"s":"a","x":20.9,"y":0.00063},{"s":"a","x":26.3,"y":0.00025},{"s":"a","x":36.3,"y":1e-9},{"s":"a","x":79.4,"y":8.9e-5},{"s":"a","x":100,"y":7.9e-5},{"s":"a","x":120,"y":1.0e-4},{"s":"a","x":145,"y":1e-9},{"s":"a","x":229,"y":1.8e-5},{"s":"a","x":282,"y":1.4e-5},{"s":"a","x":331,"y":1e-9},
{"s":"b","x":0.001,"y":1e-9},{"s":"b","x":0.575,"y":5.6},{"s":"b","x":0.692,"y":0.13},{"s":"b","x":0.794,"y":6.0},{"s":"b","x":0.933,"y":0.28},{"s":"b","x":1.12,"y":0.16},{"s":"b","x":1.41,"y":0.11},{"s":"b","x":1.78,"y":0.076},{"s":"b","x":2.24,"y":0.05},{"s":"b","x":2.82,"y":0.033},{"s":"b","x":3.55,"y":0.022},{"s":"b","x":4.47,"y":0.015},{"s":"b","x":5.62,"y":0.01},{"s":"b","x":7.08,"y":0.0076},{"s":"b","x":8.91,"y":0.0055},{"s":"b","x":11.2,"y":0.004},{"s":"b","x":14.1,"y":0.003},{"s":"b","x":17.8,"y":0.0024},{"s":"b","x":22.4,"y":0.0018},{"s":"b","x":28.2,"y":0.0011},{"s":"b","x":35.5,"y":0.00063},{"s":"b","x":43.7,"y":1e-9},
{"s":"c","x":0.001,"y":1e-9},{"s":"c","x":0.107,"y":11},{"s":"c","x":0.129,"y":8.9},{"s":"c","x":0.155,"y":11.2},{"s":"c","x":0.186,"y":5.0},{"s":"c","x":0.224,"y":2.8},{"s":"c","x":0.269,"y":1.66},{"s":"c","x":0.339,"y":1.0},{"s":"c","x":0.427,"y":0.56},{"s":"c","x":0.537,"y":0.32},{"s":"c","x":0.676,"y":0.19},{"s":"c","x":0.851,"y":0.11},{"s":"c","x":1.07,"y":0.071},{"s":"c","x":1.35,"y":0.045},{"s":"c","x":1.7,"y":0.028},{"s":"c","x":2.14,"y":0.016},{"s":"c","x":2.69,"y":0.0079},{"s":"c","x":3.39,"y":0.0032},{"s":"c","x":4.27,"y":0.0063},{"s":"c","x":5.37,"y":0.0013},{"s":"c","x":6.76,"y":0.0025},{"s":"c","x":8.51,"y":0.0005},{"s":"c","x":10.7,"y":0.0013},{"s":"c","x":13.5,"y":0.00032},{"s":"c","x":17.0,"y":0.00063},{"s":"c","x":21.4,"y":0.00025},{"s":"c","x":28.8,"y":1e-9},{"s":"c","x":83.2,"y":1.0e-4},{"s":"c","x":105,"y":7.1e-5},{"s":"c","x":132,"y":1e-9},{"s":"c","x":263,"y":1.3e-5},{"s":"c","x":324,"y":1e-9},
{"s":"d","x":0.001,"y":1e-9},{"s":"d","x":0.204,"y":7.9},{"s":"d","x":0.245,"y":8.9},{"s":"d","x":0.295,"y":5.0},{"s":"d","x":0.355,"y":2.8},{"s":"d","x":0.427,"y":1.58},{"s":"d","x":0.537,"y":0.83},{"s":"d","x":0.676,"y":0.45},{"s":"d","x":0.851,"y":0.25},{"s":"d","x":1.07,"y":0.14},{"s":"d","x":1.35,"y":0.083},{"s":"d","x":1.7,"y":0.05},{"s":"d","x":2.14,"y":0.028},{"s":"d","x":2.69,"y":0.014},{"s":"d","x":3.39,"y":0.004},{"s":"d","x":4.27,"y":0.0079},{"s":"d","x":5.37,"y":0.0016},{"s":"d","x":6.76,"y":0.0032},{"s":"d","x":8.51,"y":0.00079},{"s":"d","x":12.3,"y":1e-9},{"s":"d","x":224,"y":2.0e-5},{"s":"d","x":269,"y":1e-9},
{"s":"e","x":0.001,"y":1e-9},{"s":"e","x":0.295,"y":7.9},{"s":"e","x":0.355,"y":9.5},{"s":"e","x":0.427,"y":5.0},{"s":"e","x":0.513,"y":2.8},{"s":"e","x":0.617,"y":1.51},{"s":"e","x":0.776,"y":0.79},{"s":"e","x":0.977,"y":0.42},{"s":"e","x":1.23,"y":0.22},{"s":"e","x":1.55,"y":0.13},{"s":"e","x":1.95,"y":0.071},{"s":"e","x":2.45,"y":0.04},{"s":"e","x":3.09,"y":0.022},{"s":"e","x":3.89,"y":0.011},{"s":"e","x":4.9,"y":0.005},{"s":"e","x":6.17,"y":0.0025},{"s":"e","x":7.76,"y":0.004},{"s":"e","x":9.77,"y":0.001},{"s":"e","x":12.3,"y":0.002},{"s":"e","x":15.5,"y":0.0005},{"s":"e","x":21.4,"y":1e-9},{"s":"e","x":83.2,"y":7.9e-5},{"s":"e","x":120,"y":1e-9},{"s":"e","x":224,"y":1.8e-5},{"s":"e","x":263,"y":1e-9},
{"s":"f","x":0.001,"y":1e-9},{"s":"f","x":0.457,"y":7.6},{"s":"f","x":0.55,"y":8.3},{"s":"f","x":0.661,"y":4.5},{"s":"f","x":0.794,"y":2.2},{"s":"f","x":0.955,"y":1.12},{"s":"f","x":1.2,"y":0.56},{"s":"f","x":1.51,"y":0.28},{"s":"f","x":1.91,"y":0.15},{"s":"f","x":2.4,"y":0.083},{"s":"f","x":3.02,"y":0.045},{"s":"f","x":3.8,"y":0.024},{"s":"f","x":4.79,"y":0.012},{"s":"f","x":6.03,"y":0.0056},{"s":"f","x":7.59,"y":0.0028},{"s":"f","x":9.55,"y":0.0013},{"s":"f","x":12.3,"y":1e-9},{"s":"f","x":57.5,"y":8.9e-5},{"s":"f","x":69.2,"y":1.0e-4},{"s":"f","x":79.4,"y":1e-9},{"s":"f","x":174,"y":1.8e-5},{"s":"f","x":209,"y":1e-9}
],
"p6":[
{"s":"a","x":0.001,"y":1e-9},{"s":"a","x":0.00309,"y":6.2},{"s":"a","x":0.00389,"y":7.6},{"s":"a","x":0.0049,"y":9.5},{"s":"a","x":0.00617,"y":12.6},{"s":"a","x":0.00776,"y":16.6},{"s":"a","x":0.00977,"y":21},{"s":"a","x":0.0123,"y":24},{"s":"a","x":0.0155,"y":25},{"s":"a","x":0.0195,"y":23},{"s":"a","x":0.0245,"y":19},{"s":"a","x":0.0309,"y":14.5},{"s":"a","x":0.0389,"y":10.5},{"s":"a","x":0.049,"y":7.4},{"s":"a","x":0.0617,"y":5.0},{"s":"a","x":0.0776,"y":3.4},{"s":"a","x":0.0977,"y":2.3},{"s":"a","x":0.123,"y":1.58},{"s":"a","x":0.155,"y":1.07},{"s":"a","x":0.195,"y":0.72},{"s":"a","x":0.245,"y":0.5},{"s":"a","x":0.309,"y":0.35},{"s":"a","x":0.389,"y":0.24},{"s":"a","x":0.49,"y":0.17},{"s":"a","x":0.617,"y":0.11},{"s":"a","x":0.776,"y":0.079},{"s":"a","x":0.977,"y":0.055},{"s":"a","x":1.23,"y":0.038},{"s":"a","x":1.55,"y":0.025},{"s":"a","x":1.95,"y":0.016},{"s":"a","x":2.45,"y":0.0089},{"s":"a","x":3.09,"y":0.0045},{"s":"a","x":3.89,"y":0.0063},{"s":"a","x":4.9,"y":0.002},{"s":"a","x":6.17,"y":0.0032},{"s":"a","x":7.76,"y":0.001},{"s":"a","x":9.77,"y":0.0016},{"s":"a","x":12.3,"y":0.0005},{"s":"a","x":15.5,"y":0.00079},{"s":"a","x":20.4,"y":1e-9},{"s":"a","x":70.8,"y":0.00013},{"s":"a","x":89.1,"y":8.9e-5},{"s":"a","x":112,"y":0.00014},{"s":"a","x":138,"y":1e-9},{"s":"a","x":251,"y":3.2e-5},{"s":"a","x":331,"y":1e-9},
{"s":"b","x":0.001,"y":1e-9},{"s":"b","x":0.479,"y":7.9},{"s":"b","x":0.575,"y":2.0},{"s":"b","x":0.692,"y":0.5},{"s":"b","x":0.871,"y":0.28},{"s":"b","x":1.1,"y":0.18},{"s":"b","x":1.38,"y":0.12},{"s":"b","x":1.74,"y":0.083},{"s":"b","x":2.19,"y":0.058},{"s":"b","x":2.75,"y":0.04},{"s":"b","x":3.47,"y":0.028},{"s":"b","x":4.37,"y":0.02},{"s":"b","x":5.5,"y":0.014},{"s":"b","x":6.92,"y":0.01},{"s":"b","x":8.71,"y":0.0071},{"s":"b","x":11.0,"y":0.005},{"s":"b","x":13.8,"y":0.0035},{"s":"b","x":17.4,"y":0.0025},{"s":"b","x":21.9,"y":0.0016},{"s":"b","x":27.5,"y":0.001},{"s":"b","x":34.7,"y":0.0004},{"s":"b","x":43.7,"y":1e-9},
{"s":"c","x":0.001,"y":1e-9},{"s":"c","x":0.0776,"y":13.8},{"s":"c","x":0.0933,"y":10},{"s":"c","x":0.112,"y":12.6},{"s":"c","x":0.135,"y":5.6},{"s":"c","x":0.162,"y":3.2},{"s":"c","x":0.195,"y":1.9},{"s":"c","x":0.245,"y":1.12},{"s":"c","x":0.309,"y":0.63},{"s":"c","x":0.389,"y":0.35},{"s":"c","x":0.49,"y":0.21},{"s":"c","x":0.617,"y":0.13},{"s":"c","x":0.776,"y":0.076},{"s":"c","x":0.977,"y":0.048},{"s":"c","x":1.23,"y":0.03},{"s":"c","x":1.55,"y":0.018},{"s":"c","x":1.95,"y":0.01},{"s":"c","x":2.45,"y":0.005},{"s":"c","x":3.09,"y":0.0071},{"s":"c","x":3.89,"y":0.002},{"s":"c","x":4.9,"y":0.0032},{"s":"c","x":6.17,"y":0.001},{"s":"c","x":7.76,"y":0.0016},{"s":"c","x":9.77,"y":0.0005},{"s":"c","x":12.3,"y":0.001},{"s":"c","x":15.5,"y":0.0004},{"s":"c","x":20.4,"y":1e-9},{"s":"c","x":89.1,"y":7.9e-5},{"s":"c","x":112,"y":1.0e-4},{"s":"c","x":141,"y":1e-9},{"s":"c","x":263,"y":3.2e-5},{"s":"c","x":331,"y":1e-9},
{"s":"d","x":0.001,"y":1e-9},{"s":"d","x":0.148,"y":10},{"s":"d","x":0.178,"y":11.2},{"s":"d","x":0.214,"y":5.6},{"s":"d","x":0.257,"y":3.2},{"s":"d","x":0.309,"y":1.78},{"s":"d","x":0.389,"y":0.95},{"s":"d","x":0.49,"y":0.5},{"s":"d","x":0.617,"y":0.26},{"s":"d","x":0.776,"y":0.14},{"s":"d","x":0.977,"y":0.079},{"s":"d","x":1.23,"y":0.045},{"s":"d","x":1.55,"y":0.024},{"s":"d","x":1.95,"y":0.013},{"s":"d","x":2.45,"y":0.005},{"s":"d","x":3.09,"y":0.0016},{"s":"d","x":3.89,"y":0.0032},{"s":"d","x":4.9,"y":0.00063},{"s":"d","x":6.31,"y":1e-9},{"s":"d","x":224,"y":3.2e-5},{"s":"d","x":282,"y":1e-9},
{"s":"e","x":0.001,"y":1e-9},{"s":"e","x":0.209,"y":8.9},{"s":"e","x":0.251,"y":7.6},{"s":"e","x":0.302,"y":5.0},{"s":"e","x":0.363,"y":2.8},{"s":"e","x":0.437,"y":1.58},{"s":"e","x":0.55,"y":0.83},{"s":"e","x":0.692,"y":0.45},{"s":"e","x":0.871,"y":0.24},{"s":"e","x":1.1,"y":0.13},{"s":"e","x":1.38,"y":0.076},{"s":"e","x":1.74,"y":0.042},{"s":"e","x":2.19,"y":0.022},{"s":"e","x":2.75,"y":0.011},{"s":"e","x":3.47,"y":0.005},{"s":"e","x":4.37,"y":0.0025},{"s":"e","x":5.5,"y":0.004},{"s":"e","x":6.92,"y":0.001},{"s":"e","x":11.0,"y":1e-9},{"s":"e","x":70.8,"y":0.00013},{"s":"e","x":89.1,"y":0.00014},{"s":"e","x":112,"y":1e-9},{"s":"e","x":200,"y":2.5e-5},{"s":"e","x":240,"y":1e-9},
{"s":"f","x":0.001,"y":1e-9},{"s":"f","x":0.269,"y":7.6},{"s":"f","x":0.324,"y":7.1},{"s":"f","x":0.389,"y":4.0},{"s":"f","x":0.468,"y":2.0},{"s":"f","x":0.562,"y":1.12},{"s":"f","x":0.708,"y":0.56},{"s":"f","x":0.891,"y":0.3},{"s":"f","x":1.12,"y":0.16},{"s":"f","x":1.41,"y":0.089},{"s":"f","x":1.78,"y":0.05},{"s":"f","x":2.24,"y":0.028},{"s":"f","x":2.82,"y":0.016},{"s":"f","x":3.55,"y":0.0089},{"s":"f","x":4.47,"y":0.005},{"s":"f","x":5.62,"y":0.0028},{"s":"f","x":7.08,"y":0.0016},{"s":"f","x":8.91,"y":0.00079},{"s":"f","x":11.2,"y":0.0004},{"s":"f","x":14.8,"y":1e-9},{"s":"f","x":47.9,"y":0.00013},{"s":"f","x":57.5,"y":0.00014},{"s":"f","x":69.2,"y":1e-9},{"s":"f","x":191,"y":3.2e-5},{"s":"f","x":229,"y":1e-9}
]
},
"concat":[
{"title":"uniform single-particle density (reference)","width":223,"height":144,"data":{"name":"p1"},
"mark":{"type":"line","interpolate":"step-after","clip":true,"strokeWidth":1.2},
"encoding":{
"x":{"field":"x","type":"quantitative","scale":{"type":"log","domain":[0.00316,724],"nice":false},"axis":{"title":"|Λ|, log scale","labelOverlap":false}},
"y":{"field":"y","type":"quantitative","scale":{"type":"log","domain":[5.6e-7,41.7],"nice":false},"axis":{"title":"ESD ρ(|Λ|)","labelOverlap":false}},
"color":{"field":"s","type":"nominal","scale":{"domain":["a","b","c","d","e","f"],"range":["#1f77b4","#d62728","#17becf","#2ca02c","#9467bd","#ff7f0e"]},"legend":{"title":null,"symbolType":"M-1.6,-0.6H1.6V0.6H-1.6Z","labelExpr":"datum.label=='a'?'M⁽ˢ⁾ (latent, S²)':datum.label=='b'?'M⁽ᴰ⁻ˢ⁾ (residual, S¹²⁴)':datum.label=='c'?'M⁽ᴰ⁾, ε = 0.1':datum.label=='d'?'M⁽ᴰ⁾, ε = 0.22':datum.label=='e'?'M⁽ᴰ⁾, ε = 0.32':'M⁽ᴰ⁾, ε = 0.45'"}}
}},
{"title":"beta-product blob, 40% coverage (κₗₐₜ = 6.88, κᵣₑₛ = 24.5)","width":223,"height":144,"data":{"name":"p2"},
"mark":{"type":"line","interpolate":"step-after","clip":true,"strokeWidth":1.2},
"encoding":{
"x":{"field":"x","type":"quantitative","scale":{"type":"log","domain":[0.00229,871],"nice":false},"axis":{"title":"|Λ|, log scale","labelOverlap":false}},
"y":{"field":"y","type":"quantitative","scale":{"type":"log","domain":[3.0e-7,41.7],"nice":false},"axis":{"title":"ESD ρ(|Λ|)","labelOverlap":false}},
"color":{"field":"s","type":"nominal","scale":{"domain":["a","b","c","d","e","f"],"range":["#1f77b4","#d62728","#17becf","#2ca02c","#9467bd","#ff7f0e"]},"legend":{"title":null,"symbolType":"M-1.6,-0.6H1.6V0.6H-1.6Z","labelExpr":"datum.label=='a'?'M⁽ˢ⁾ (latent, S²)':datum.label=='b'?'M⁽ᴰ⁻ˢ⁾ (residual, S¹²⁴)':datum.label=='c'?'M⁽ᴰ⁾, ε = 0.1':datum.label=='d'?'M⁽ᴰ⁾, ε = 0.22':datum.label=='e'?'M⁽ᴰ⁾, ε = 0.32':'M⁽ᴰ⁾, ε = 0.45'"}}
}},
{"title":"beta-product blob, 35% coverage (κₗₐₜ = 8.19, κᵣₑₛ = 27.5)","width":223,"height":144,"data":{"name":"p3"},
"mark":{"type":"line","interpolate":"step-after","clip":true,"strokeWidth":1.2},
"encoding":{
"x":{"field":"x","type":"quantitative","scale":{"type":"log","domain":[0.00148,891],"nice":false},"axis":{"title":"|Λ|, log scale","labelOverlap":false}},
"y":{"field":"y","type":"quantitative","scale":{"type":"log","domain":[3.6e-7,45.7],"nice":false},"axis":{"title":"ESD ρ(|Λ|)","labelOverlap":false}},
"color":{"field":"s","type":"nominal","scale":{"domain":["a","b","c","d","e","f"],"range":["#1f77b4","#d62728","#17becf","#2ca02c","#9467bd","#ff7f0e"]},"legend":{"title":null,"symbolType":"M-1.6,-0.6H1.6V0.6H-1.6Z","labelExpr":"datum.label=='a'?'M⁽ˢ⁾ (latent, S²)':datum.label=='b'?'M⁽ᴰ⁻ˢ⁾ (residual, S¹²⁴)':datum.label=='c'?'M⁽ᴰ⁾, ε = 0.1':datum.label=='d'?'M⁽ᴰ⁾, ε = 0.22':datum.label=='e'?'M⁽ᴰ⁾, ε = 0.32':'M⁽ᴰ⁾, ε = 0.45'"}}
}},
{"title":"beta-product blob, 30% coverage (κₗₐₜ = 10.04, κᵣₑₛ = 30.3)","width":223,"height":138,"data":{"name":"p4"},
"mark":{"type":"line","interpolate":"step-after","clip":true,"strokeWidth":1.2},
"encoding":{
"x":{"field":"x","type":"quantitative","scale":{"type":"log","domain":[0.00316,676],"nice":false},"axis":{"title":"|Λ|, log scale","labelOverlap":false}},
"y":{"field":"y","type":"quantitative","scale":{"type":"log","domain":[4.2e-7,23.4],"nice":false},"axis":{"title":"ESD ρ(|Λ|)","labelOverlap":false}},
"color":{"field":"s","type":"nominal","scale":{"domain":["a","b","c","d","e","f"],"range":["#1f77b4","#d62728","#17becf","#2ca02c","#9467bd","#ff7f0e"]},"legend":{"title":null,"symbolType":"M-1.6,-0.6H1.6V0.6H-1.6Z","labelExpr":"datum.label=='a'?'M⁽ˢ⁾ (latent, S²)':datum.label=='b'?'M⁽ᴰ⁻ˢ⁾ (residual, S¹²⁴)':datum.label=='c'?'M⁽ᴰ⁾, ε = 0.1':datum.label=='d'?'M⁽ᴰ⁾, ε = 0.22':datum.label=='e'?'M⁽ᴰ⁾, ε = 0.32':'M⁽ᴰ⁾, ε = 0.45'"}}
}},
{"title":"beta-product blob, 25% coverage (κₗₐₜ = 12.67, κᵣₑₛ = 33.1)","width":223,"height":138,"data":{"name":"p5"},
"mark":{"type":"line","interpolate":"step-after","clip":true,"strokeWidth":1.2},
"encoding":{
"x":{"field":"x","type":"quantitative","scale":{"type":"log","domain":[0.00302,562],"nice":false},"axis":{"title":"|Λ|, log scale","labelOverlap":false}},
"y":{"field":"y","type":"quantitative","scale":{"type":"log","domain":[4.2e-7,25.7],"nice":false},"axis":{"title":"ESD ρ(|Λ|)","labelOverlap":false}},
"color":{"field":"s","type":"nominal","scale":{"domain":["a","b","c","d","e","f"],"range":["#1f77b4","#d62728","#17becf","#2ca02c","#9467bd","#ff7f0e"]},"legend":{"title":null,"symbolType":"M-1.6,-0.6H1.6V0.6H-1.6Z","labelExpr":"datum.label=='a'?'M⁽ˢ⁾ (latent, S²)':datum.label=='b'?'M⁽ᴰ⁻ˢ⁾ (residual, S¹²⁴)':datum.label=='c'?'M⁽ᴰ⁾, ε = 0.1':datum.label=='d'?'M⁽ᴰ⁾, ε = 0.22':datum.label=='e'?'M⁽ᴰ⁾, ε = 0.32':'M⁽ᴰ⁾, ε = 0.45'"}}
}},
{"title":"beta-product blob, 20% coverage (κₗₐₜ = 16.25, κᵣₑₛ = 35.7)","width":223,"height":138,"data":{"name":"p6"},
"mark":{"type":"line","interpolate":"step-after","clip":true,"strokeWidth":1.2},
"encoding":{
"x":{"field":"x","type":"quantitative","scale":{"type":"log","domain":[0.00174,617],"nice":false},"axis":{"title":"|Λ|, log scale","labelOverlap":false}},
"y":{"field":"y","type":"quantitative","scale":{"type":"log","domain":[1.78e-6,30.9],"nice":false},"axis":{"title":"ESD ρ(|Λ|)","labelOverlap":false}},
"color":{"field":"s","type":"nominal","scale":{"domain":["a","b","c","d","e","f"],"range":["#1f77b4","#d62728","#17becf","#2ca02c","#9467bd","#ff7f0e"]},"legend":{"title":null,"symbolType":"M-1.6,-0.6H1.6V0.6H-1.6Z","labelExpr":"datum.label=='a'?'M⁽ˢ⁾ (latent, S²)':datum.label=='b'?'M⁽ᴰ⁻ˢ⁾ (residual, S¹²⁴)':datum.label=='c'?'M⁽ᴰ⁾, ε = 0.1':datum.label=='d'?'M⁽ᴰ⁾, ε = 0.22':datum.label=='e'?'M⁽ᴰ⁾, ε = 0.32':'M⁽ᴰ⁾, ε = 0.45'"}}
}}
],
"columns":3,
"spacing":{"row":40,"column":32},
"bounds":"flush",
"resolve":{"scale":{"x":"independent","y":"independent","color":"independent"},"legend":{"color":"independent"}}
}
